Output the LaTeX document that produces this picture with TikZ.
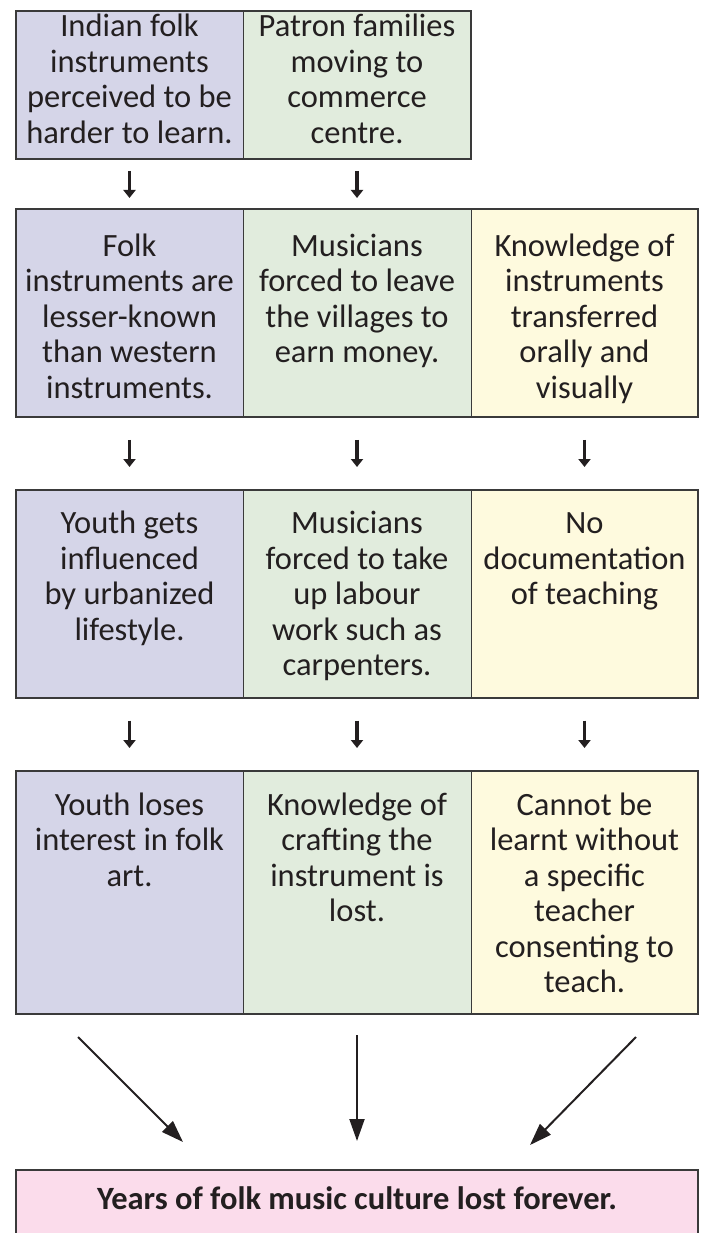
\documentclass[tikz,border=0pt]{standalone}
\usepackage{fontspec}
\setmainfont{Carlito}
\usetikzlibrary{arrows.meta}
\definecolor{cpurple}{HTML}{D5D5E8}
\definecolor{cgreen}{HTML}{E1ECDD}
\definecolor{cyellow}{HTML}{FEFADE}
\definecolor{cpink}{HTML}{FBDCEB}
\definecolor{cborder}{HTML}{3A3A3A}
\definecolor{ctext}{HTML}{231F20}
\tikzset{
  cell/.style={draw=cborder, line width=1pt, anchor=north west, inner sep=0pt, outer sep=0pt,
    font=\fontsize{32.5}{35.5}\selectfont, text=ctext},
  frame/.style={draw=cborder, line width=2pt},
  smallarrow/.style={draw=ctext, line width=3.5pt, -{Triangle[width=12pt,length=8pt]}},
  bigarrow/.style={draw=ctext, line width=2pt, -{Triangle[width=15pt,length=22pt]}},
}
% #1 width, #2 height, #3 first baseline offset, #4 text
\newcommand{\cellbox}[4]{\parbox[t][#2][t]{#1}{\centering\rule{0pt}{#3}#4}}
\begin{document}
\begin{tikzpicture}[x=1pt,y=-1pt]
\useasboundingbox (0,0) rectangle (704,1233);
\clip (0,0) rectangle (704,1233);
% row 1
\node[cell, fill=cpurple] (r1a) at (16,11) {\cellbox{227pt}{148.3pt}{26pt}{Indian folk\\instruments\\perceived to be\\harder to learn.}};
\node[cell, fill=cgreen] (r1b) at (243,11) {\cellbox{228pt}{148.3pt}{26pt}{Patron families\\moving to\\commerce\\centre.}};
\draw[frame] (r1a.north west) rectangle (r1b.south east);
% row 2
\node[cell, fill=cpurple] (r2a) at (16,209) {\cellbox{227pt}{207.7pt}{47pt}{Folk\\instruments are\\lesser-known\\than western\\instruments.}};
\node[cell, fill=cgreen] (r2b) at (243,209) {\cellbox{228pt}{207.7pt}{47pt}{Musicians\\forced to leave\\the villages to\\earn money.}};
\node[cell, fill=cyellow] (r2c) at (471,209) {\cellbox{227pt}{207.7pt}{47pt}{Knowledge of\\instruments\\transferred\\orally and\\visually}};
\draw[frame] (r2a.north west) rectangle (r2c.south east);
% row 3
\node[cell, fill=cpurple] (r3a) at (16,490) {\cellbox{227pt}{207.5pt}{43.5pt}{Youth gets\\influenced\\by urbanized\\lifestyle.}};
\node[cell, fill=cgreen] (r3b) at (243,490) {\cellbox{228pt}{207.5pt}{43.5pt}{Musicians\\forced to take\\up labour\\work such as\\carpenters.}};
\node[cell, fill=cyellow] (r3c) at (471,490) {\cellbox{227pt}{207.5pt}{43.5pt}{No\\documentation\\of teaching}};
\draw[frame] (r3a.north west) rectangle (r3c.south east);
% row 4
\node[cell, fill=cpurple] (r4a) at (16,771) {\cellbox{227pt}{243pt}{44pt}{Youth loses\\interest in folk\\art.}};
\node[cell, fill=cgreen] (r4b) at (243,771) {\cellbox{228pt}{243pt}{44pt}{Knowledge of\\crafting the\\instrument is\\lost.}};
\node[cell, fill=cyellow] (r4c) at (471,771) {\cellbox{227pt}{243pt}{44pt}{Cannot be\\learnt without\\a specific\\teacher\\consenting to\\teach.}};
\draw[frame] (r4a.north west) rectangle (r4c.south east);
% final
\node[cell, fill=cpink, font=\fontsize{32.5}{36}\selectfont\bfseries] (fin) at (16,1170) {\parbox[t][90pt][t]{682pt}{\centering\rule{0pt}{39pt}Years of folk music culture lost forever.}};
\draw[frame] (fin.north west) rectangle (fin.south east);
% small arrows
\foreach \a/\b in {r1a/r2a, r1b/r2b}
  \draw[smallarrow, shorten <=11.5pt, shorten >=11pt] (\a.south) -- (\b.north);
\foreach \a/\b in {r2a/r3a, r2b/r3b, r2c/r3c, r3a/r4a, r3b/r4b, r3c/r4c}
  \draw[smallarrow, shorten <=23.2pt, shorten >=23pt] (\a.south) -- (\b.north);
% big arrows
\coordinate (l1) at (78,1037);
\coordinate (l2) at (183,1142);
\coordinate (r1) at (636,1037);
\coordinate (r2) at (530,1145);
\draw[bigarrow] (l1) -- (l2);
\draw[bigarrow, shorten <=21pt, shorten >=29pt] (r4b.south) -- (fin.north);
\draw[bigarrow] (r1) -- (r2);
\end{tikzpicture}
\end{document}
